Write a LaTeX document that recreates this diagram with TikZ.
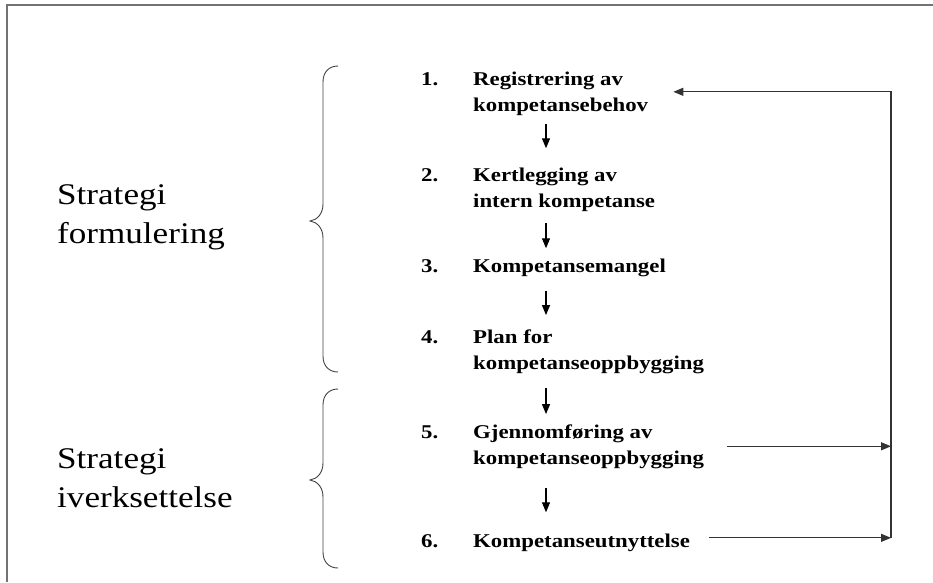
\documentclass[tikz,border=0pt]{standalone}
\usepackage{fontspec}
\setmainfont{Liberation Serif}[FakeStretch=1.17]
\usetikzlibrary{arrows.meta}

\tikzset{
  phase/.style={align=left, inner sep=0pt, anchor=base west,
    font=\fontsize{30}{38.5}\selectfont},
  numlabel/.style={inner sep=0pt, anchor=base west,
    font=\fontsize{19.5}{26}\selectfont\bfseries},
  steptext/.style={numlabel, align=left},
  down/.style={-{Triangle[length=10pt,width=8pt]}, line width=1.2pt},
  flow/.style={-{Triangle[length=10pt,width=8pt]}, line width=1.2pt, draw=black!80},
  wbrace/.style={line width=0.9pt, draw=black!75},
  frame/.style={line width=1.6pt, draw=black!55}
}

\begin{document}
\begin{tikzpicture}[x=1pt, y=-1pt]
    \useasboundingbox (0,0) rectangle (933,582);

    % Frame
    \draw[frame] (933,5) -- (7,5) -- (7,582);

    % Phases (placed at the baseline of the last line)
    \node[phase] (form) at (57,243) {Strategi\\formulering};
    \node[phase] (iverk) at (57,507) {Strategi\\iverksettelse};

    % Braces
    \draw[wbrace] (338,66) .. controls (329,66) and (323,72) .. (323,82)
        -- (323,204) .. controls (323,214) and (317,220) .. (310,221)
        .. controls (317,222) and (323,228) .. (323,238)
        -- (323,356) .. controls (323,366) and (329,372) .. (338,372);
    \draw[wbrace] (338,389) .. controls (329,389) and (323,395) .. (323,405)
        -- (323,463) .. controls (323,473) and (317,479) .. (310,480)
        .. controls (317,481) and (323,487) .. (323,497)
        -- (323,552) .. controls (323,562) and (329,568) .. (338,568);

    % Steps
    \node[numlabel] (n1) at (421,85) {1.};
    \node[steptext] (s1) at (473,111) {Registrering av\\kompetansebehov};
    \node[numlabel] (n2) at (421,181) {2.};
    \node[steptext] (s2) at (473,207) {Kertlegging av\\intern kompetanse};
    \node[numlabel] (n3) at (421,272) {3.};
    \node[steptext] (s3) at (473,272) {Kompetansemangel};
    \node[numlabel] (n4) at (421,343) {4.};
    \node[steptext] (s4) at (473,369) {Plan for\\kompetanseoppbygging};
    \node[numlabel] (n5) at (421,438) {5.};
    \node[steptext] (s5) at (473,464) {Gjennomføring av\\kompetanseoppbygging};
    \node[numlabel] (n6) at (421,547) {6.};
    \node[steptext] (s6) at (473,547) {Kompetanseutnyttelse};

    % Arrows down
    \coordinate (ax) at (546,0);
    \draw[down, shorten <=9pt, shorten >=19pt] (s1.south -| ax) -- (s2.north -| ax);
    \draw[down, shorten <=12pt, shorten >=10pt] (s2.south -| ax) -- (s3.north -| ax);
    \draw[down, shorten <=14pt, shorten >=14pt] (s3.south -| ax) -- (s4.north -| ax);
    \draw[down, shorten <=14pt, shorten >=10pt] (s4.south -| ax) -- (s5.north -| ax);
    \draw[down, shorten <=19pt, shorten >=21pt] (s5.south -| ax) -- (s6.north -| ax);

    % Feedback loop
    \coordinate (rx) at (891,0);
    \draw[flow, shorten <=23pt] (s5.east) -- (s5.east -| rx);
    \draw[flow, shorten <=19pt] ([yshift=4.5pt]s6.east) -- ([yshift=4.5pt]s6.east -| rx);
    \draw[flow, shorten >=25pt] ([yshift=4.5pt]s6.east -| rx) |- ([yshift=1.5pt]s1.east);
\end{tikzpicture}
\end{document}
